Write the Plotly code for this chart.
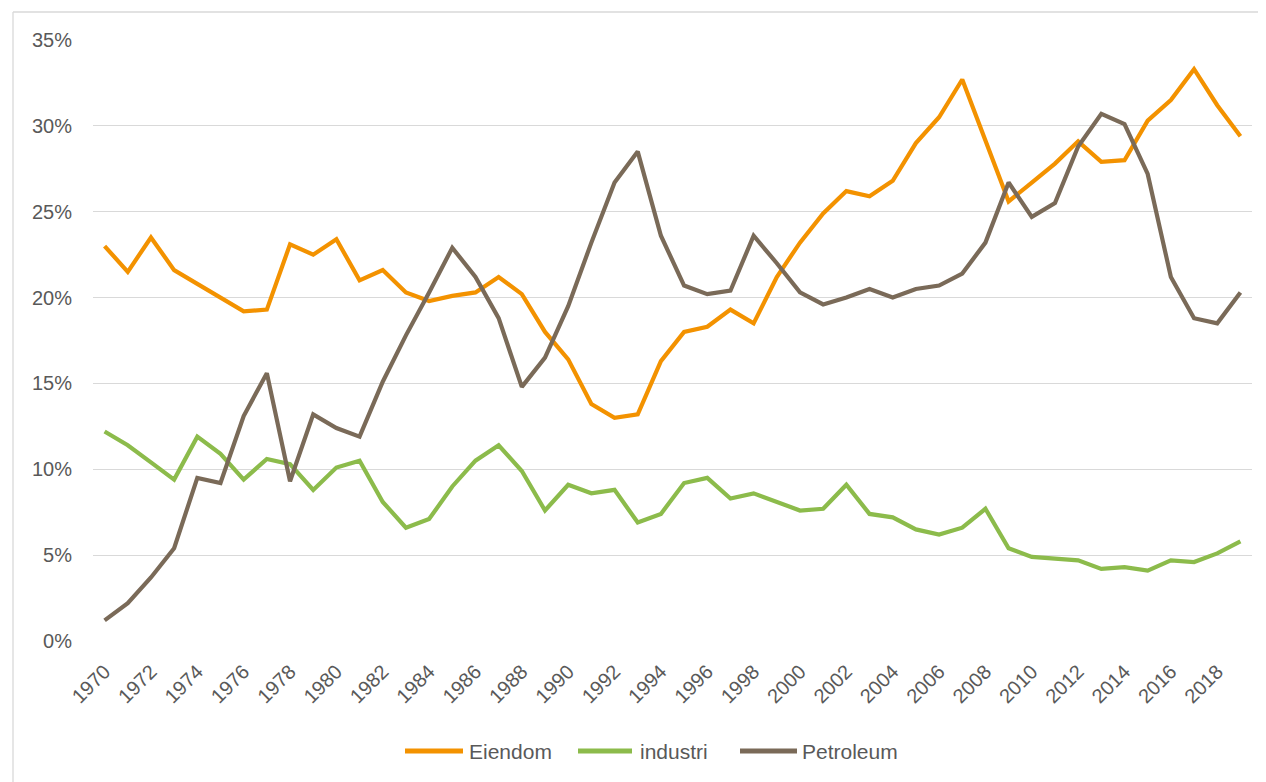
import plotly.graph_objects as go

years = list(range(1970, 2020))

eiendom = [23.0, 21.5, 23.5, 21.6, 20.8, 20.0, 19.2, 19.3, 23.1, 22.5,
           23.4, 21.0, 21.6, 20.3, 19.8, 20.1, 20.3, 21.2, 20.2, 18.0,
           16.4, 13.8, 13.0, 13.2, 16.3, 18.0, 18.3, 19.3, 18.5, 21.2,
           23.2, 24.9, 26.2, 25.9, 26.8, 29.0, 30.5, 32.7, 29.2, 25.6,
           26.7, 27.8, 29.1, 27.9, 28.0, 30.3, 31.5, 33.3, 31.2, 29.4]

industri = [12.2, 11.4, 10.4, 9.4, 11.9, 10.9, 9.4, 10.6, 10.3, 8.8,
            10.1, 10.5, 8.1, 6.6, 7.1, 9.0, 10.5, 11.4, 9.9, 7.6,
            9.1, 8.6, 8.8, 6.9, 7.4, 9.2, 9.5, 8.3, 8.6, 8.1,
            7.6, 7.7, 9.1, 7.4, 7.2, 6.5, 6.2, 6.6, 7.7, 5.4,
            4.9, 4.8, 4.7, 4.2, 4.3, 4.1, 4.7, 4.6, 5.1, 5.8]

petroleum = [1.2, 2.2, 3.7, 5.4, 9.5, 9.2, 13.1, 15.6, 9.3, 13.2,
             12.4, 11.9, 15.1, 17.8, 20.3, 22.9, 21.2, 18.8, 14.8, 16.5,
             19.5, 23.2, 26.7, 28.5, 23.6, 20.7, 20.2, 20.4, 23.6, 22.0,
             20.3, 19.6, 20.0, 20.5, 20.0, 20.5, 20.7, 21.4, 23.2, 26.7,
             24.7, 25.5, 28.8, 30.7, 30.1, 27.2, 21.2, 18.8, 18.5, 20.3]

series_names = ["Eiendom", "industri", "Petroleum"]
series_colors = ["#F39200", "#8CBB4B", "#7A6A58"]
tick_years = list(range(1970, 2019, 2))
y_ticks = [0, 5, 10, 15, 20, 25, 30, 35]

FONT = "Liberation Sans"
GRAY = "#595959"
BORDER = "#D9D9D9"

fig = go.Figure()
for name, vals, col in zip(series_names, [eiendom, industri, petroleum], series_colors):
    fig.add_trace(go.Scatter(x=years, y=vals, mode="lines", name=name,
                             line=dict(color=col, width=4.2), showlegend=False))

# page is rendered with an 8px body margin; work in page pixels and offset
OFF = 8
W, H = 1266 - OFF, 782 - OFF
ml, mr, mt, mb = 93 - OFF, 14, 40 - OFF, 141
pw, ph = W - ml - mr, H - mt - mb

def px_x(p):
    return (p - OFF - ml) / pw

def px_y(p):
    return (H - mb - (p - OFF)) / ph

shapes = [
    dict(type="line", xref="paper", yref="paper", x0=px_x(13), x1=px_x(1266),
         y0=px_y(12), y1=px_y(12), line=dict(color=BORDER, width=1.3)),
    dict(type="line", xref="paper", yref="paper", x0=px_x(13), x1=px_x(13),
         y0=px_y(12), y1=px_y(782), line=dict(color=BORDER, width=1.3)),
]
annotations = []

# custom legend (sample line spans and label starts in page pixels)
legend_y = 751
legend_items = [(405, 463, 467), (578, 632, 638), (740, 797, 800)]
for (x0, x1, tx), name, col in zip(legend_items, series_names, series_colors):
    shapes.append(dict(type="line", xref="paper", yref="paper",
                       x0=px_x(x0), x1=px_x(x1), y0=px_y(legend_y), y1=px_y(legend_y),
                       line=dict(color=col, width=5)))
    annotations.append(dict(xref="paper", yref="paper", x=px_x(tx), y=px_y(legend_y),
                            xanchor="left", yanchor="middle", text=name, showarrow=False,
                            font=dict(size=21, color=GRAY, family=FONT)))

fig.update_layout(
    width=W, height=H,
    margin=dict(l=ml, r=mr, t=mt, b=mb, autoexpand=False),
    paper_bgcolor="white", plot_bgcolor="white",
    font=dict(family=FONT, color=GRAY, size=20),
    showlegend=False,
    xaxis=dict(range=[1969.5, 2019.5], tickmode="array", tickvals=tick_years,
               ticktext=[str(y) for y in tick_years], tickangle=-45,
               showgrid=False, zeroline=False, showline=False, ticks="",
               ticklabelstandoff=14, tickfont=dict(size=20, color=GRAY)),
    yaxis=dict(range=[0, 35], tickmode="array", tickvals=y_ticks,
               ticktext=[f"{v}%" for v in y_ticks],
               showgrid=True, gridcolor=BORDER, gridwidth=1.3,
               zeroline=False, showline=False, ticks="",
               ticklabelstandoff=20, tickfont=dict(size=20, color=GRAY)),
    shapes=shapes,
    annotations=annotations,
)

fig.write_html("out.html")
